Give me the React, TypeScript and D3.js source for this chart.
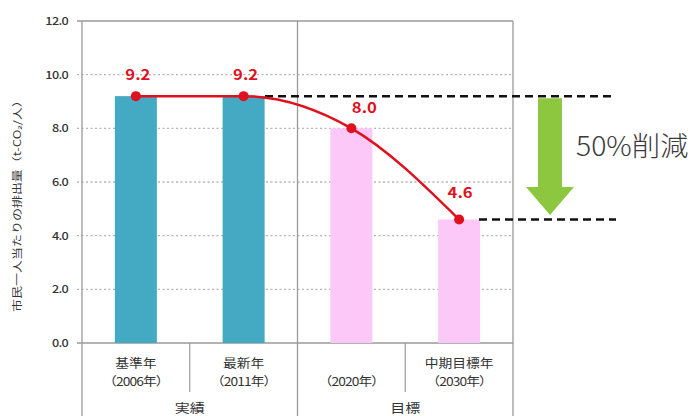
import React from "react";
import * as d3 from "d3";

const categories = ["基準年", "最新年", "2020", "中期目標年"];
const catLine1 = ["基準年", "最新年", "", "中期目標年"];
const catLine2 = ["（2006年）", "（2011年）", "（2020年）", "（2030年）"];
const values = [9.2, 9.2, 8.0, 4.6];
const barColors = ["#44A9C2", "#44A9C2", "#FCC8F8", "#FCC8F8"];
const groups = ["実績", "目標"];
const yTicks = [0, 2, 4, 6, 8, 10, 12];
const labelDx = [2, 2, 13, 1];
const labelDy = [-16, -16, -15, -22];
const reductionText = "50%削減";
const yTitle = "市民一人当たりの排出量（t-CO₂/人）";

const W = 696, H = 416;
const L = 82, R = 513, T = 21, B = 343;

function SText(props: { x: number; y: number; sx?: number; anchor?: string; size: number; fill?: string; weight?: number; ls?: number; children: React.ReactNode }) {
  const { x, y, sx = 1.2, anchor = "middle", size, fill = "#333", weight = 400, ls = 0, children } = props;
  return (
    <text transform={`translate(${x},${y}) scale(${sx},1)`} textAnchor={anchor} fontSize={size} fill={fill} fontWeight={weight} letterSpacing={ls}>
      {children}
    </text>
  );
}

export default function App() {
  const x = d3.scaleBand<string>().domain(categories).range([L, R]).paddingInner(0.61).paddingOuter(0.305);
  const y = d3.scaleLinear().domain([0, 12]).range([B, T]);
  const cx = (i: number) => (x(categories[i]) as number) + x.bandwidth() / 2;
  const line = d3.line<number>().x((_, i) => cx(i)).y((d) => y(d)).curve(d3.curveMonotoneX);
  const mid = (L + R) / 2;
  const step = x.step();
  const gray = "#9a9a9a";
  const red = "#E0101E";
  const jp = "'Noto Sans CJK JP', 'Noto Sans', sans-serif";

  const yTop = y(values[1]);
  const yBot = y(values[3]);
  const ax = 550;
  const shaftW = 24, headW = 48;
  const headTop = 187, tip = 215;
  const arrow = `M${ax - shaftW / 2},${yTop + 2} L${ax + shaftW / 2},${yTop + 2} L${ax + shaftW / 2},${headTop} L${ax + headW / 2},${headTop} L${ax},${tip} L${ax - headW / 2},${headTop} L${ax - shaftW / 2},${headTop} Z`;

  return (
    <div style={{ position: "fixed", left: 0, top: 0 }}>
      <svg width={W} height={H} style={{ display: "block", background: "#fff" }} fontFamily={jp}>
        {/* gridlines */}
        {yTicks.filter((t) => t > 0 && t < 12).map((t) => (
          <line key={t} x1={L - 5} x2={R} y1={y(t)} y2={y(t)} stroke="#b5b5b5" strokeWidth={1.3} strokeDasharray="2,2.5" />
        ))}
        {/* frame */}
        <line x1={L - 5} x2={R} y1={T} y2={T} stroke={gray} strokeWidth={1.3} />
        <line x1={L - 5} x2={R} y1={B} y2={B} stroke={gray} strokeWidth={1.3} />
        <line x1={L} x2={L} y1={T} y2={H} stroke={gray} strokeWidth={1.3} />
        <line x1={mid} x2={mid} y1={T} y2={H} stroke={gray} strokeWidth={1.3} />
        <line x1={R} x2={R} y1={T} y2={H} stroke={gray} strokeWidth={1.3} />
        {[1, 3].map((k) => (
          <line key={k} x1={L + k * step} x2={L + k * step} y1={B} y2={392} stroke={gray} strokeWidth={1.2} />
        ))}
        {/* bars */}
        {values.map((v, i) => (
          <rect key={i} x={x(categories[i])} y={y(v)} width={x.bandwidth()} height={B - y(v)} fill={barColors[i]} />
        ))}
        {/* y ticks */}
        {yTicks.map((t) => (
          <SText key={t} x={68} y={y(t) + 4} anchor="end" size={11} sx={1.15} ls={-0.6} weight={500}>
            {t.toFixed(1)}
          </SText>
        ))}
        <text transform={`translate(21,${203}) rotate(-90) scale(1.3,1)`} textAnchor="middle" fontSize={10} fill="#333">
          {yTitle}
        </text>
        {/* category labels */}
        {categories.map((c, i) => (
          <g key={c}>
            <SText x={cx(i)} y={368} size={12} sx={1.15}>{catLine1[i]}</SText>
            <SText x={cx(i)} y={386} size={12} sx={1.15} ls={-0.8}>{catLine2[i]}</SText>
          </g>
        ))}
        {groups.map((g, k) => (
          <SText key={g} x={L + (k * 2 + 1) * step} y={413} size={12.5} sx={1.2}>{g}</SText>
        ))}
        {/* dashed reference lines */}
        <line x1={265} x2={616} y1={yTop} y2={yTop} stroke="#111" strokeWidth={2.5} strokeDasharray="8,5" />
        <line x1={479} x2={616} y1={yBot} y2={yBot} stroke="#111" strokeWidth={2.5} strokeDasharray="8,5" />
        {/* arrow */}
        <path d={arrow} fill="#8DC63F" />
        <SText x={576} y={156} anchor="start" size={27} sx={1.05} fill="#3a3a3a" weight={300}>{reductionText}</SText>
        {/* line */}
        <path d={line(values) as string} fill="none" stroke={red} strokeWidth={2.5} />
        {values.map((v, i) => (
          <g key={i}>
            <circle cx={cx(i)} cy={y(v)} r={5} fill={red} />
            <SText x={cx(i) + labelDx[i]} y={y(v) + labelDy[i]} size={14.5} sx={1.15} weight={700} fill={red}>
              {v.toFixed(1)}
            </SText>
          </g>
        ))}
      </svg>
    </div>
  );
}
